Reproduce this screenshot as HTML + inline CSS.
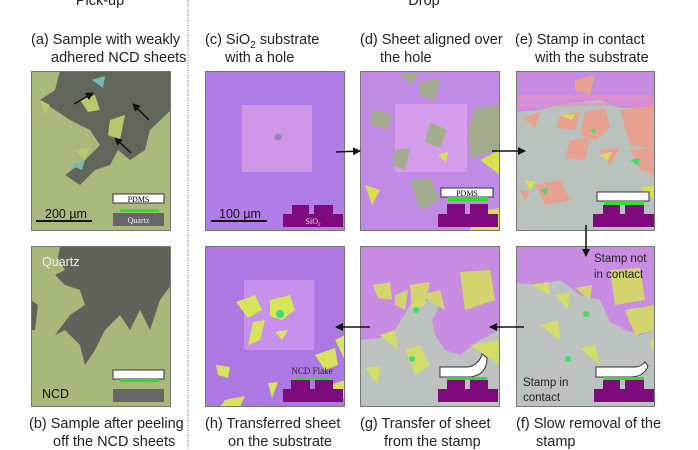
<!DOCTYPE html>
<html><head><meta charset="utf-8"><style>
html,body{margin:0;padding:0;background:#fff;}
svg{display:block;font-family:"Liberation Sans",sans-serif;}
</style></head><body>
<svg width="698" height="450" viewBox="0 0 698 450" xmlns="http://www.w3.org/2000/svg">
<defs>
<marker id="ah" markerWidth="8" markerHeight="8" refX="7" refY="4" orient="auto" markerUnits="userSpaceOnUse"><path d="M0,0 L8,4 L0,8 Z" fill="#111"/></marker>
<clipPath id="ca"><rect x="31" y="71" width="140" height="160"/></clipPath>
<clipPath id="cd"><rect x="360" y="71" width="140" height="160"/></clipPath>
<clipPath id="ce"><rect x="516" y="71" width="139" height="160"/></clipPath>
<clipPath id="cb"><rect x="31" y="246" width="140" height="161"/></clipPath>
<clipPath id="ch"><rect x="205" y="246" width="140" height="161"/></clipPath>
<clipPath id="cg"><rect x="360" y="246" width="140" height="161"/></clipPath>
<clipPath id="cf"><rect x="516" y="246" width="139" height="161"/></clipPath>
</defs>

<g font-size="14.5" fill="#222">
<text x="100" y="5" text-anchor="middle">Pick-up</text>
<text x="424" y="5" text-anchor="middle">Drop</text>
<text x="31" y="44">(a) Sample with weakly</text>
<text x="51" y="62">adhered NCD sheets</text>
<text x="205" y="44">(c) SiO<tspan font-size="10" dy="4">2</tspan><tspan dy="-4"> substrate</tspan></text>
<text x="225" y="62">with a hole</text>
<text x="360" y="44">(d) Sheet aligned over</text>
<text x="380" y="62">the hole</text>
<text x="515" y="44">(e) Stamp in contact</text>
<text x="535" y="62">with the substrate</text>
<text x="29" y="428">(b) Sample after peeling</text>
<text x="53" y="446">off the NCD sheets</text>
<text x="205" y="428">(h) Transferred sheet</text>
<text x="228" y="446">on the substrate</text>
<text x="360" y="428">(g) Transfer of sheet</text>
<text x="384" y="446">from the stamp</text>
<text x="516" y="428">(f) Slow removal of the</text>
<text x="536" y="446">stamp</text>
</g>
<line x1="188" y1="0" x2="188" y2="450" stroke="#666" stroke-dasharray="1,1.5"/>

<!-- (a) -->
<g clip-path="url(#ca)">
<rect x="31" y="71" width="140" height="160" fill="#a9b97c"/>
<path d="M60,71 L171,71 L171,110 L150,130 L145,150 L130,160 L118,150 L110,165 L95,170 L80,185 L65,175 L85,160 L100,145 L90,130 L70,120 L55,110 L40,100 L55,90 Z" fill="#60665a"/>
<path d="M80,100 L95,95 L100,110 L88,112Z M110,120 L125,115 L120,140 L108,135Z M75,150 L90,148 L85,160Z M40,100 L50,105 L45,115Z" fill="#b9c86c"/>
<path d="M92,80 L105,76 L103,88Z M70,165 L85,160 L82,170Z" fill="#7ab8b0"/>
</g>
<rect x="31.5" y="71.5" width="139" height="159" fill="none" stroke="#777"/>
<g stroke="#111" stroke-width="1.5" marker-end="url(#ah)">
<line x1="74" y1="104" x2="93" y2="93"/><line x1="149" y1="120" x2="133" y2="104"/><line x1="131" y1="153" x2="115" y2="138"/>
</g>
<rect x="113" y="194" width="51" height="9" fill="#fff" stroke="#333"/>
<text x="138.5" y="202" font-family="Liberation Serif" font-size="8" text-anchor="middle">PDMS</text>
<rect x="120" y="209" width="39" height="3" fill="#2ee02e"/>
<rect x="113" y="213" width="51" height="13" fill="#676767"/>
<text x="138.5" y="223" font-family="Liberation Serif" font-size="8" fill="#eee" text-anchor="middle">Quartz</text>
<line x1="36" y1="221" x2="92" y2="221" stroke="#111" stroke-width="2"/>
<text x="45" y="218" font-size="12.5" fill="#111">200 µm</text>

<!-- (c) -->
<rect x="205.5" y="71.5" width="139" height="159" fill="#b07ee6" stroke="#777"/>
<rect x="242" y="105" width="70" height="67" fill="#cf95e6"/>
<circle cx="278" cy="137" r="3.5" fill="#9a7ec4"/>
<line x1="211" y1="221" x2="267" y2="221" stroke="#111" stroke-width="2"/>
<text x="219" y="218" font-size="12.5" fill="#111">100 µm</text>
<path d="M283,214 L292,214 L292,205 L309,205 L309,214 L314,214 L314,205 L333,205 L333,214 L343,214 L343,227 L283,227Z" fill="#7e0a7e"/>
<text x="313" y="224" font-family="Liberation Serif" font-size="8" fill="#eee" text-anchor="middle">SiO<tspan font-size="5" dy="2">2</tspan></text>

<!-- (d) -->
<g clip-path="url(#cd)">
<rect x="360" y="71" width="140" height="160" fill="#c08be4"/>
<rect x="395" y="104" width="72" height="68" fill="#d49ceb"/>
<path d="M372,110 L392,114 L388,130 L370,124Z M420,82 L440,78 L435,100 L420,95Z M430,122 L447,130 L440,148 L425,142Z M475,108 L500,105 L500,150 L470,158 L468,130Z M395,150 L410,148 L405,170 L392,165Z M410,180 L430,178 L440,200 L420,210Z M400,74 L420,74 L410,85Z" fill="#9fae84" opacity="0.9"/>
<path d="M438,155 L448,152 L446,162Z M365,185 L380,190 L372,205Z M480,160 L500,150 L500,175Z M475,212 L500,208 L500,231 L470,231Z" fill="#d8e050"/>
</g>
<rect x="360.5" y="71.5" width="139" height="159" fill="none" stroke="#777"/>
<rect x="441" y="188" width="52" height="9" fill="#fff" stroke="#333"/>
<text x="467" y="196" font-family="Liberation Serif" font-size="8" text-anchor="middle">PDMS</text>
<rect x="448" y="197" width="40" height="4" fill="#2ee02e"/>
<path d="M438,214 L447,214 L447,204 L465,204 L465,214 L470,214 L470,204 L488,204 L488,214 L498,214 L498,227 L438,227Z" fill="#7e0a7e"/>

<!-- (e) -->
<g clip-path="url(#ce)">
<rect x="516" y="71" width="139" height="160" fill="#b9c1bd"/>
<path d="M516,71 L655,71 L655,108 L620,108 L600,100 L560,104 L540,110 L516,112Z" fill="#c88de2"/>
<path d="M516,95 L655,95 L655,99 L516,100Z M516,103 L655,102 L655,105 L516,107Z" fill="#e890c0" opacity="0.7"/>
<path d="M560,115 L580,112 L575,130 L556,128Z M585,112 L605,108 L610,128 L595,140 L580,135Z M620,110 L655,105 L655,150 L630,145Z M570,140 L590,138 L585,160 L565,158Z M600,150 L620,148 L610,165Z M535,185 L560,180 L570,200 L545,205Z M630,150 L655,148 L655,175 L640,170Z M523,118 L540,112 L535,128Z M520,190 L530,192 L525,200Z M575,80 L595,75 L590,95 L575,90Z" fill="#e8a090"/>
<path d="M590,130 L596,128 L594,134Z M540,190 L548,188 L546,195Z M630,160 L640,158 L638,166Z" fill="#3fdc70"/>
<path d="M560,115 L575,114 L572,120Z M600,155 L612,152 L608,160Z M525,180 L535,182 L530,190Z M640,188 L655,185 L655,200Z" fill="#d8e050"/>
</g>
<rect x="516.5" y="71.5" width="138" height="159" fill="none" stroke="#777"/>
<rect x="597" y="192" width="52" height="9" fill="#fff" stroke="#333"/>
<rect x="604" y="201" width="40" height="4" fill="#2ee02e"/>
<path d="M593,214 L603,214 L603,205 L620,205 L620,214 L625,214 L625,205 L644,205 L644,214 L654,214 L654,227 L593,227Z" fill="#7e0a7e"/>

<!-- (b) -->
<g clip-path="url(#cb)">
<rect x="31" y="246" width="140" height="161" fill="#a7b87a"/>
<path d="M60,246 L171,246 L171,285 L160,300 L150,330 L140,310 L130,330 L120,315 L105,330 L95,350 L85,365 L80,345 L65,330 L55,335 L70,315 L85,305 L80,290 L65,285 L55,275 L65,270 L58,258Z" fill="#5e6459"/>
<path d="M31,300 L38,305 L35,330 L31,330Z" fill="#5e6459"/>
</g>
<rect x="31.5" y="246.5" width="139" height="160" fill="none" stroke="#777"/>
<text x="42" y="266" font-size="12.5" fill="#eee">Quartz</text>
<text x="42" y="398" font-size="12.5" fill="#111">NCD</text>
<rect x="113" y="370" width="51" height="9" fill="#fff" stroke="#333"/>
<rect x="120" y="379" width="39" height="3" fill="#2ee02e"/>
<rect x="113" y="389" width="51" height="13" fill="#676767"/>

<!-- (h) -->
<g clip-path="url(#ch)">
<rect x="205" y="246" width="140" height="161" fill="#ae78e2"/>
<rect x="244" y="280" width="70" height="70" fill="#c690ec"/>
<path d="M236,302 L255,295 L262,310 L248,318Z M270,300 L290,295 L295,310 L282,320 L270,316Z M253,322 L265,320 L260,340 L248,345Z M275,332 L288,330 L282,340Z M216,365 L230,367 L228,378 L218,375Z M268,383 L278,382 L272,398Z M315,355 L335,348 L338,365 L325,370Z M335,340 L345,335 L345,360Z M330,385 L345,380 L345,400Z M225,400 L245,396 L240,407 L220,407Z" fill="#d6e45a"/>
<circle cx="280" cy="314" r="4" fill="#3fdc70"/>
</g>
<rect x="205.5" y="246.5" width="139" height="160" fill="none" stroke="#777"/>
<text x="312" y="374" font-family="Liberation Serif" font-size="9" fill="#222" text-anchor="middle">NCD Flake</text>
<rect x="293" y="377" width="39" height="3" fill="#2ee02e"/>
<path d="M283,389 L291,389 L291,380 L310,380 L310,389 L315,389 L315,380 L333,380 L333,389 L343,389 L343,402 L283,402Z" fill="#7e0a7e"/>

<!-- (g) -->
<g clip-path="url(#cg)">
<rect x="360" y="246" width="140" height="161" fill="#bbc2bf"/>
<path d="M360,246 L500,246 L500,330 L480,340 L460,355 L445,350 L435,335 L432,320 L440,305 L430,300 L410,305 L395,330 L380,338 L360,340Z" fill="#c88de2"/>
<path d="M373,285 L390,282 L392,300 L378,298Z M395,295 L408,290 L405,310 L395,305Z M410,285 L430,282 L425,305 L412,310Z M420,295 L440,290 L445,310Z M460,272 L490,270 L495,300 L465,310Z M380,335 L395,330 L398,350Z M405,350 L420,345 L430,365 L415,375Z M470,345 L500,340 L500,365Z M365,368 L380,366 L378,385Z" fill="#d6e05a" opacity="0.85"/>
<circle cx="416" cy="310" r="3" fill="#3fdc70"/><circle cx="412" cy="359" r="3" fill="#3fdc70"/>
</g>
<rect x="360.5" y="246.5" width="139" height="160" fill="none" stroke="#777"/>
<path d="M440,367 L468,367 Q479,365 482,354 L487,358 Q487,375 470,377 L440,377Z" fill="#fff" stroke="#333"/>
<rect x="447" y="377" width="40" height="3" fill="#2ee02e"/>
<path d="M438,389 L447,389 L447,380 L465,380 L465,389 L470,389 L470,380 L488,380 L488,389 L498,389 L498,402 L438,402Z" fill="#7e0a7e"/>

<!-- (f) -->
<g clip-path="url(#cf)">
<rect x="516" y="246" width="139" height="161" fill="#bbc2bf"/>
<path d="M516,246 L655,246 L655,330 L640,335 L625,330 L610,322 L600,300 L580,295 L560,280 L540,285 L516,283Z" fill="#c88de2"/>
<path d="M530,285 L548,282 L550,295Z M555,295 L570,292 L568,310Z M575,288 L592,285 L590,300Z M610,270 L640,268 L645,300 L615,305Z M540,325 L558,320 L560,340Z M625,310 L655,305 L655,330 L635,335Z M580,348 L595,345 L600,365Z M650,340 L655,338 L655,360Z" fill="#d6e05a" opacity="0.85"/>
<circle cx="586" cy="314" r="3" fill="#3fdc70"/><circle cx="568" cy="359" r="3" fill="#3fdc70"/>
</g>
<rect x="516.5" y="246.5" width="138" height="160" fill="none" stroke="#777"/>
<text x="594" y="262" font-size="11.5" fill="#222">Stamp not</text>
<text x="594" y="278" font-size="11.5" fill="#222">in contact</text>
<text x="523" y="386" font-size="11.5" fill="#222">Stamp in</text>
<text x="523" y="401" font-size="11.5" fill="#222">contact</text>
<path d="M596,367 L636,367 Q642,366 645,362 L648,366 Q644,377 630,377 L596,377Z" fill="#fff" stroke="#333"/>
<rect x="604" y="377" width="40" height="3" fill="#2ee02e"/>
<path d="M594,389 L603,389 L603,380 L620,380 L620,389 L625,389 L625,380 L644,380 L644,389 L654,389 L654,402 L594,402Z" fill="#7e0a7e"/>

<!-- arrows -->
<g stroke="#111" stroke-width="1.5" marker-end="url(#ah)">
<line x1="336" y1="152" x2="360" y2="151"/>
<line x1="492" y1="151" x2="525" y2="151"/>
<line x1="586" y1="225" x2="586" y2="256"/>
<line x1="524" y1="327" x2="490" y2="327"/>
<line x1="370" y1="327" x2="336" y2="327"/>
</g>
</svg>
</body></html>
